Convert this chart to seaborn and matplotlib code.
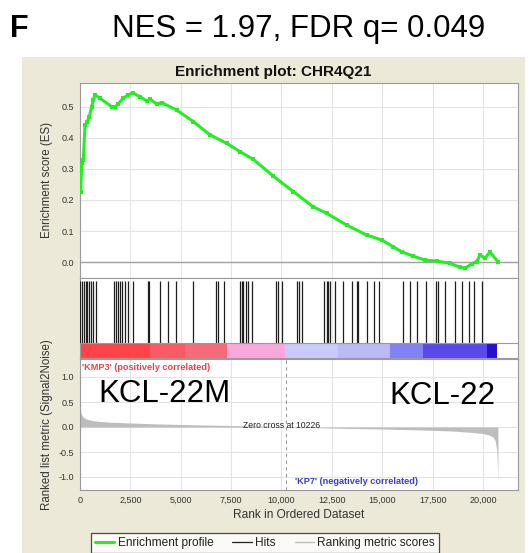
import matplotlib
matplotlib.use("Agg")
import matplotlib.pyplot as plt
from matplotlib.patches import Rectangle
from matplotlib.lines import Line2D
import seaborn as sns
import numpy as np

sns.set_theme(style="white")
plt.rcParams['font.family'] = ['Liberation Sans', 'DejaVu Sans']

# ---------------- data ----------------
es_rank = [35, 84, 164, 248, 362, 462, 581, 660, 744, 993, 1573, 1737, 1901, 2149,
           2397, 2615, 2978, 3310, 3474, 3807, 4055, 4799, 5623, 6452, 7281, 7941,
           8601, 9594, 10586, 11579, 12244, 13237, 14229, 14973, 15549, 15966, 16542,
           17122, 17703, 18363, 18859, 19108, 19440, 19688, 19852, 20100, 20348, 20760]
es_value = [0.227, 0.318, 0.329, 0.442, 0.453, 0.469, 0.501, 0.523, 0.539, 0.528, 0.501,
            0.499, 0.511, 0.528, 0.539, 0.546, 0.533, 0.520, 0.525, 0.510, 0.514, 0.490,
            0.453, 0.410, 0.383, 0.356, 0.331, 0.277, 0.227, 0.178, 0.157, 0.119, 0.087,
            0.071, 0.049, 0.033, 0.019, 0.006, 0.003, -0.004, -0.017, -0.020, -0.006,
            0.001, 0.023, 0.012, 0.033, -0.001]

hit_ranks = [0, 84, 199, 283, 362, 447, 531, 660, 779, 1702, 1787, 1901, 1985, 2099,
             2233, 2397, 2645, 3360, 3439, 3995, 4382, 4789, 5623, 6725, 6864, 7122,
             7941, 8025, 8105, 8224, 8353, 8512, 9713, 9842, 10011, 10785, 10884, 11003,
             12110, 12244, 12323, 12407, 12655, 13067, 13474, 13733, 13782, 14244, 14576,
             14849, 16006, 16363, 16710, 17172, 17658, 17753, 18115, 18611, 18944, 19291,
             19564, 19961]

metric_rank = [0, 50, 150, 300, 600, 1000, 1600, 2500, 4000, 5500, 7500, 9000, 10226,
               11500, 13000, 15000, 17000, 18500, 19500, 20000, 20300, 20500, 20600,
               20680, 20720, 20740]
metric_value = [0.34, 0.27, 0.20, 0.16, 0.13, 0.11, 0.095, 0.08, 0.06, 0.045, 0.03, 0.015,
                0.0, -0.012, -0.025, -0.04, -0.06, -0.08, -0.11, -0.13, -0.16, -0.20,
                -0.27, -0.45, -0.80, -1.15]

band_edges = [0, 3470, 5200, 7280, 10175, 12800, 15385, 17040, 20180, 20680]
band_colors = ['#ff4448', '#fb5a64', '#f76b78', '#f8a8dc', '#cacafa', '#babaf6',
               '#8282f4', '#5a4aea', '#2a10c8']

es_ticks = [0.0, 0.1, 0.2, 0.3, 0.4, 0.5]
metric_ticks = [-1.0, -0.5, 0.0, 0.5, 1.0]
rank_ticks = [0, 2500, 5000, 7500, 10000, 12500, 15000, 17500, 20000]
rank_ticklabels = ['0', '2,500', '5,000', '7,500', '10,000', '12,500', '15,000',
                   '17,500', '20,000']
zero_cross = 10226

# ---------------- layout ----------------
W, H = 531, 553
fig = plt.figure(figsize=(W / 100, H / 100), dpi=100, facecolor='white')

def fr(x0, y0, x1, y1):
    return [x0 / W, 1 - y1 / H, (x1 - x0) / W, (y1 - y0) / H]

fig.patches.append(Rectangle((22 / W, 0), (525 - 22) / W, (H - 57) / H,
                             transform=fig.transFigure, facecolor='#ece9d8',
                             edgecolor='none', zorder=-10))

ax_es = fig.add_axes(fr(80, 83, 518, 278))
ax_hit = fig.add_axes(fr(80, 278, 518, 359))
ax_rk = fig.add_axes(fr(80, 359, 518, 490))

xmax = 21737
spine_c = '#9a9a9a'
grid_c = '#e4e4e4'
tick_c = '#404040'
for ax in (ax_es, ax_hit, ax_rk):
    ax.set_facecolor('white')
    ax.set_xlim(0, xmax)
    for s in ax.spines.values():
        s.set_color(spine_c)
        s.set_linewidth(0.8)
    ax.tick_params(axis='both', colors=tick_c, labelsize=6.5, length=2.5, width=0.6,
                   direction='out', pad=2)
    ax.tick_params(axis='both', labelcolor='#333333')

# ES panel
ax_es.set_ylim(-0.0516, 0.5774)
ax_es.set_xticks(rank_ticks)
ax_es.set_xticklabels([])
ax_es.tick_params(axis='x', length=0)
ax_es.set_yticks(es_ticks)
ax_es.set_yticklabels([f'{v:.1f}' for v in es_ticks])
ax_es.grid(True, color=grid_c, linewidth=0.8)
ax_es.set_axisbelow(True)
ax_es.axhline(0, color='#a0a0a0', linewidth=1.0, zorder=1)
sns.lineplot(x=es_rank, y=es_value, ax=ax_es, color='#22ee22', linewidth=2.2,
             marker='s', markersize=2.6, markeredgewidth=0, zorder=3)
ax_es.set_ylabel('Enrichment score (ES)', fontsize=8.3, color='#333333', labelpad=6)
ax_es.set_title('Enrichment plot: CHR4Q21', fontsize=11, fontweight='bold',
                color='#111111', pad=5, x=(273 - 80) / 438)

# Hits + colour bar panel
ax_hit.set_ylim(0, 1)
ax_hit.set_xticks(rank_ticks)
ax_hit.set_yticks([])
ax_hit.tick_params(axis='x', length=0, labelbottom=False)
ax_hit.grid(True, axis='x', color=grid_c, linewidth=0.6)
ax_hit.set_axisbelow(True)
ax_hit.vlines(hit_ranks, 0.198, 0.963, color='#1e1e1e', linewidth=0.9, zorder=3)
lefts = band_edges[:-1]
widths = [b - a for a, b in zip(band_edges[:-1], band_edges[1:])]
ax_hit.bar(lefts, [0.186] * len(lefts), width=widths, bottom=0.012, align='edge',
           color=band_colors, edgecolor='none', linewidth=0, zorder=2)
ax_hit.axhline(0.198, color=spine_c, linewidth=0.8, zorder=4)
ax_hit.axhline(0.012, color=spine_c, linewidth=0.8, zorder=4)

# Ranked metric panel
ax_rk.set_ylim(-1.26, 1.36)
ax_rk.set_xticks(rank_ticks)
ax_rk.set_xticklabels(rank_ticklabels)
ax_rk.set_yticks(metric_ticks)
ax_rk.set_yticklabels([f'{v:.1f}' for v in metric_ticks])
ax_rk.grid(True, color=grid_c, linewidth=0.8)
ax_rk.set_axisbelow(True)
ax_rk.fill_between(metric_rank, metric_value, 0, color='#bdbdbd', linewidth=0, zorder=2)
ax_rk.axvline(zero_cross, color='#9a9a9a', linewidth=0.8, linestyle=(0, (3, 3)), zorder=3)
ax_rk.set_ylabel('Ranked list metric (Signal2Noise)', fontsize=8.3, color='#333333',
                 labelpad=4)
ax_rk.set_xlabel('Rank in Ordered Dataset', fontsize=8.6, color='#333333', labelpad=3)

ax_rk.text(100, 1.2, "'KMP3' (positively correlated)", color='#e8424c', fontsize=6.6,
           fontweight='bold', va='center', ha='left', zorder=5)
ax_rk.text(10670, -1.08, "'KP7' (negatively correlated)", color='#3b3bd0', fontsize=6.6,
           fontweight='bold', va='center', ha='left', zorder=5)
ax_rk.text(10000, 0.03, 'Zero cross at 10226', color='#222222', fontsize=6.2,
           va='center', ha='center', zorder=5)
ax_rk.text(893, 0.50, 'KCL-22M', color='black', fontsize=22.5, va='baseline',
           ha='left', zorder=5)
ax_rk.text(20596, 0.46, 'KCL-22', color='black', fontsize=22.5, va='baseline',
           ha='right', zorder=5)

# Top titles
fig.text(10 / W, 1 - 37 / H, 'F', fontsize=22, fontweight='bold', ha='left',
         va='baseline', color='black')
fig.text(299 / W, 1 - 37.5 / H, 'NES = 1.97, FDR q= 0.049', fontsize=22.5, ha='center',
         va='baseline', color='black')

# Legend
handles = [Line2D([], [], color='#22ee22', linewidth=2.2),
           Line2D([], [], color='#1e1e1e', linewidth=0.9),
           Line2D([], [], color='#bdbdbd', linewidth=1.0)]
labels = ['Enrichment profile', 'Hits', 'Ranking metric scores']
leg = fig.legend(handles, labels, loc='upper center', bbox_to_anchor=(265 / W, 1 - 533 / H),
                 ncol=3, fontsize=8.6, frameon=True, fancybox=False, handlelength=1.6,
                 handletextpad=0.3, columnspacing=1.6, borderpad=0.35,
                 borderaxespad=0)
leg.get_frame().set_edgecolor('#222222')
leg.get_frame().set_linewidth(0.9)
for t in leg.get_texts():
    t.set_color('#222222')

fig.savefig('out.png', dpi=100, facecolor='white')
